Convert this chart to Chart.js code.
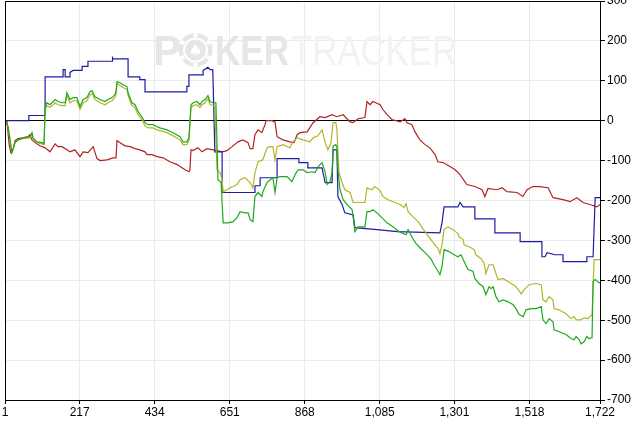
<!DOCTYPE html>
<html lang="en">
<head>
    <meta charset="UTF-8">
    <title>Session Graph</title>
    <script src="https://cdn.jsdelivr.net/npm/chart.js@4.4.0/dist/chart.umd.min.js"></script>
    <style>
        html, body { margin: 0; padding: 0; background: #fff; }
        #graph { display: block; }
    </style>
</head>
<body>
<canvas id="graph" width="636" height="424"></canvas>

<script>
    // x axis tick labels (hand numbers)
    const xTicks = [1, 217, 434, 651, 868, 1085, 1301, 1518, 1722];

    // green line
    const greenHands = [1, 10, 21, 24, 30, 39, 53, 73, 79, 82, 94, 108, 114, 117, 122, 131, 146, 154, 166, 175, 180, 189, 198, 209, 218, 227, 238, 247, 253, 261, 276, 290, 299, 311, 319, 322, 325, 334, 342, 354, 357, 368, 377, 386, 397, 406, 415, 429, 441, 449, 470, 487, 507, 516, 527, 533, 539, 545, 556, 565, 571, 580, 588, 594, 603, 611, 617, 626, 632, 646, 661, 672, 681, 695, 704, 710, 718, 724, 733, 744, 747, 759, 768, 776, 782, 788, 796, 817, 831, 840, 849, 863, 875, 889, 898, 907, 918, 927, 933, 941, 947, 950, 958, 961, 964, 970, 979, 990, 1005, 1008, 1013, 1022, 1042, 1048, 1057, 1065, 1077, 1091, 1106, 1123, 1141, 1161, 1167, 1181, 1190, 1204, 1219, 1233, 1242, 1254, 1259, 1265, 1271, 1285, 1300, 1311, 1320, 1329, 1340, 1355, 1360, 1372, 1384, 1392, 1401, 1407, 1413, 1421, 1430, 1442, 1456, 1471, 1479, 1488, 1500, 1508, 1523, 1537, 1552, 1557, 1566, 1575, 1586, 1589, 1604, 1624, 1638, 1647, 1653, 1662, 1667, 1676, 1684, 1690, 1699, 1702, 1708, 1719, 1722];
    const greenValues = [0, -15, -80, -73, -55, -48, -43, -40, -30, -43, -53, -55, -58, 33, 45, 40, 53, 48, 45, 45, 70, 53, 58, 58, 35, 53, 58, 73, 75, 60, 53, 48, 53, 58, 65, 73, 98, 95, 90, 85, 70, 45, 40, 23, 10, -5, -10, -10, -15, -18, -23, -30, -40, -53, -53, -43, 40, 45, 48, 40, 48, 53, 63, 48, 45, 45, -148, -155, -256, -256, -253, -243, -228, -231, -231, -248, -253, -190, -180, -190, -178, -155, -148, -143, -180, -143, -140, -140, -153, -135, -123, -123, -130, -128, -130, -115, -105, -128, -160, -153, -130, -63, -60, -68, -123, -173, -198, -210, -223, -241, -278, -266, -266, -228, -228, -223, -231, -243, -256, -266, -278, -286, -273, -296, -308, -321, -333, -346, -361, -378, -386, -366, -323, -328, -336, -341, -336, -353, -373, -378, -396, -408, -416, -436, -416, -421, -416, -441, -454, -449, -454, -461, -471, -486, -491, -474, -471, -471, -466, -499, -509, -496, -504, -524, -529, -536, -546, -549, -541, -549, -559, -554, -541, -546, -544, -403, -398, -406, -406];

    // yellow line
    const yellowHands = [1, 10, 21, 24, 30, 39, 53, 73, 79, 82, 94, 108, 114, 117, 122, 131, 146, 154, 166, 175, 180, 189, 198, 209, 218, 227, 238, 247, 253, 261, 276, 290, 299, 311, 319, 322, 325, 334, 342, 354, 357, 368, 377, 386, 397, 406, 415, 429, 441, 449, 470, 487, 507, 516, 527, 533, 539, 545, 556, 565, 571, 580, 588, 594, 603, 608, 614, 623, 629, 632, 643, 652, 661, 672, 681, 695, 710, 718, 724, 733, 747, 759, 768, 776, 782, 788, 805, 825, 834, 846, 863, 883, 892, 906, 918, 927, 935, 944, 950, 958, 961, 967, 976, 984, 999, 1008, 1019, 1042, 1048, 1062, 1071, 1086, 1094, 1109, 1123, 1144, 1155, 1161, 1167, 1181, 1196, 1210, 1227, 1242, 1254, 1259, 1265, 1271, 1282, 1297, 1311, 1314, 1326, 1329, 1343, 1358, 1363, 1378, 1387, 1392, 1401, 1413, 1421, 1427, 1442, 1456, 1471, 1479, 1494, 1502, 1517, 1537, 1552, 1557, 1566, 1575, 1586, 1589, 1603, 1624, 1638, 1647, 1653, 1667, 1676, 1687, 1699, 1705, 1719, 1722];
    const yellowValues = [0, -15, -80, -73, -55, -48, -45, -43, -33, -45, -55, -58, -60, 25, 38, 33, 45, 40, 38, 38, 63, 45, 50, 50, 28, 45, 50, 65, 68, 53, 45, 40, 45, 50, 58, 65, 93, 88, 83, 78, 63, 38, 33, 15, 3, -13, -18, -18, -23, -25, -30, -38, -48, -60, -60, -50, 33, 38, 40, 33, 40, 45, 55, 40, 38, 35, -123, -130, -148, -178, -173, -168, -165, -160, -148, -143, -155, -168, -130, -103, -98, -68, -65, -65, -98, -65, -60, -68, -53, -43, -48, -53, -43, -38, -23, -55, -73, -55, -5, -5, -23, -130, -155, -173, -180, -205, -205, -205, -168, -173, -165, -175, -190, -198, -203, -210, -218, -208, -228, -241, -253, -271, -291, -308, -321, -333, -311, -273, -266, -273, -283, -291, -298, -311, -316, -323, -336, -346, -358, -383, -361, -361, -383, -398, -396, -403, -411, -416, -434, -424, -411, -408, -411, -449, -454, -441, -449, -471, -474, -484, -496, -491, -499, -499, -494, -496, -486, -348, -348, -348];

    // blue line
    const blueHands = [1, 70, 70, 117, 117, 169, 169, 175, 175, 189, 189, 198, 224, 224, 241, 241, 311, 311, 313, 357, 357, 391, 391, 406, 406, 527, 527, 533, 533, 574, 574, 588, 594, 602, 608, 629, 629, 724, 724, 739, 739, 788, 788, 851, 851, 877, 877, 918, 927, 947, 950, 961, 964, 976, 984, 1008, 1013, 1077, 1135, 1259, 1265, 1271, 1311, 1317, 1326, 1360, 1360, 1418, 1418, 1491, 1491, 1554, 1554, 1563, 1569, 1592, 1615, 1615, 1684, 1684, 1702, 1708, 1722];
    const blueValues = [0, 0, 13, 13, 110, 110, 128, 128, 110, 110, 121, 126, 126, 136, 136, 149, 149, 161, 155, 155, 110, 110, 103, 103, 72, 72, 86, 86, 115, 115, 126, 134, 128, 128, -78, -78, -180, -180, -163, -163, -143, -143, -95, -95, -105, -105, -118, -118, -155, -155, -73, -73, -190, -210, -231, -236, -268, -273, -278, -281, -256, -216, -216, -205, -216, -216, -246, -246, -281, -281, -303, -303, -341, -341, -331, -336, -336, -353, -353, -341, -341, -193, -193];

    // red line
    const redHands = [1, 7, 13, 18, 24, 30, 39, 53, 68, 73, 79, 88, 102, 117, 131, 146, 154, 166, 180, 189, 203, 218, 227, 241, 256, 267, 276, 296, 313, 322, 325, 334, 348, 363, 377, 391, 406, 412, 426, 441, 458, 478, 499, 513, 522, 533, 536, 539, 545, 559, 571, 585, 603, 614, 629, 643, 658, 675, 689, 704, 710, 718, 724, 733, 744, 753, 756, 773, 782, 788, 805, 825, 837, 846, 854, 875, 892, 912, 927, 947, 961, 979, 999, 1008, 1022, 1042, 1048, 1057, 1065, 1086, 1094, 1106, 1120, 1144, 1158, 1164, 1178, 1187, 1201, 1216, 1230, 1245, 1253, 1268, 1288, 1303, 1317, 1337, 1360, 1381, 1389, 1398, 1424, 1439, 1453, 1482, 1499, 1511, 1528, 1548, 1572, 1586, 1615, 1635, 1655, 1673, 1693, 1713, 1722];
    const redValues = [0, -3, -60, -80, -73, -50, -45, -43, -40, -35, -48, -55, -63, -68, -78, -58, -65, -65, -73, -78, -73, -90, -78, -80, -65, -95, -100, -98, -93, -93, -50, -55, -63, -65, -70, -73, -78, -85, -85, -90, -93, -103, -110, -118, -123, -128, -123, -73, -75, -68, -78, -70, -73, -75, -78, -75, -65, -53, -48, -55, -70, -70, -35, -23, -30, -10, 0, 0, -3, -40, -48, -53, -55, -35, -30, -28, -5, 10, 8, 15, 10, 15, -3, -5, 5, 8, 48, 40, 48, 40, 28, 15, 3, -3, 5, -5, -10, -28, -48, -60, -68, -85, -103, -105, -115, -123, -135, -160, -165, -173, -190, -170, -173, -168, -178, -180, -190, -173, -165, -165, -168, -193, -198, -203, -193, -205, -210, -216, -210];

    function toPoints(hands, values) {
        return hands.map((h, i) => ({ x: h, y: values[i] }));
    }

    // watermark + outer frame
    const watermark = {
        id: 'watermark',
        beforeDatasetsDraw(chart) {
            const ctx = chart.ctx;
            ctx.save();
            ctx.textBaseline = 'alphabetic';
            ctx.font = 'bold 42px "Liberation Sans", Arial, sans-serif';
            ctx.fillStyle = '#e6e6e6';
            ctx.fillText('P', 153, 65);
            // poker chip as the "O"
            ctx.beginPath();
            ctx.arc(195.5, 50, 17, 0, Math.PI * 2);
            ctx.fill();
            ctx.strokeStyle = '#fff';
            ctx.lineWidth = 2;
            ctx.beginPath();
            ctx.arc(195.5, 50, 11.5, 0, Math.PI * 2);
            ctx.stroke();
            for (let i = 0; i < 6; i++) {
                const a = i * Math.PI / 3 + Math.PI / 6;
                ctx.beginPath();
                ctx.moveTo(195.5 + Math.cos(a) * 13, 50 + Math.sin(a) * 13);
                ctx.lineTo(195.5 + Math.cos(a) * 17, 50 + Math.sin(a) * 17);
                ctx.lineWidth = 4;
                ctx.stroke();
            }
            ctx.fillStyle = '#fff';
            ctx.font = '16px "DejaVu Sans", sans-serif';
            ctx.textAlign = 'center';
            ctx.fillText('\u2660', 195.5, 56);
            ctx.textAlign = 'left';
            ctx.fillStyle = '#e6e6e6';
            ctx.font = 'bold 42px "Liberation Sans", Arial, sans-serif';
            ctx.fillText('KER', 215, 65, 74);
            ctx.fillStyle = '#f2f2f2';
            ctx.font = '42px "Liberation Sans", Arial, sans-serif';
            ctx.fillText('TRACKER', 291, 65, 166);
            ctx.restore();
        },
        afterDraw(chart) {
            const a = chart.chartArea;
            const ctx = chart.ctx;
            ctx.save();
            ctx.strokeStyle = '#000';
            ctx.lineWidth = 1;
            ctx.beginPath();
            ctx.moveTo(a.left + 0.5, a.bottom);
            ctx.lineTo(a.left + 0.5, a.top + 0.5);
            ctx.lineTo(a.right, a.top + 0.5);
            ctx.stroke();
            ctx.restore();
        }
    };

    Chart.defaults.font.family = '"Liberation Sans", Arial, sans-serif';
    Chart.defaults.font.size = 12;
    Chart.defaults.color = '#000';

    const lineStyle = { borderWidth: 1.2, pointRadius: 0, tension: 0, fill: false };

    new Chart(document.getElementById('graph'), {
        type: 'line',
        data: {
            datasets: [
                Object.assign({ label: 'Green', data: toPoints(greenHands, greenValues), borderColor: '#1fa81f' }, lineStyle),
                Object.assign({ label: 'Yellow', data: toPoints(yellowHands, yellowValues), borderColor: '#b4b42a' }, lineStyle),
                Object.assign({ label: 'Blue', data: toPoints(blueHands, blueValues), borderColor: '#1c1ca6' }, lineStyle),
                Object.assign({ label: 'Red', data: toPoints(redHands, redValues), borderColor: '#b42222' }, lineStyle)
            ]
        },
        options: {
            responsive: false,
            animation: false,
            devicePixelRatio: 1,
            layout: { padding: { left: 5, top: 1, right: 0, bottom: 0 } },
            plugins: { legend: { display: false }, tooltip: { enabled: false } },
            scales: {
                x: {
                    type: 'linear',
                    position: 'bottom',
                    min: 1,
                    max: 1722,
                    grid: { color: '#ebebeb', tickColor: '#000', tickLength: 4 },
                    border: { color: '#000' },
                    ticks: {
                        padding: 1,
                        maxRotation: 0,
                        autoSkip: false,
                        callback: v => v.toLocaleString('en-US')
                    },
                    afterBuildTicks: s => { s.ticks = xTicks.map(v => ({ value: v })); },
                    afterFit: s => { s.height = 24; s.paddingLeft = 0; s.paddingRight = 0; }
                },
                y: {
                    position: 'right',
                    min: -700,
                    max: 300,
                    grid: {
                        color: c => (c.tick && c.tick.value === 0 ? '#000' : '#ebebeb'),
                        tickColor: '#000',
                        tickLength: 5
                    },
                    border: { color: '#000' },
                    ticks: { stepSize: 100, padding: 2 },
                    afterFit: s => { s.width = 36; s.paddingTop = 0; s.paddingBottom = 0; }
                }
            }
        },
        plugins: [watermark]
    });
</script>
</body>
</html>
